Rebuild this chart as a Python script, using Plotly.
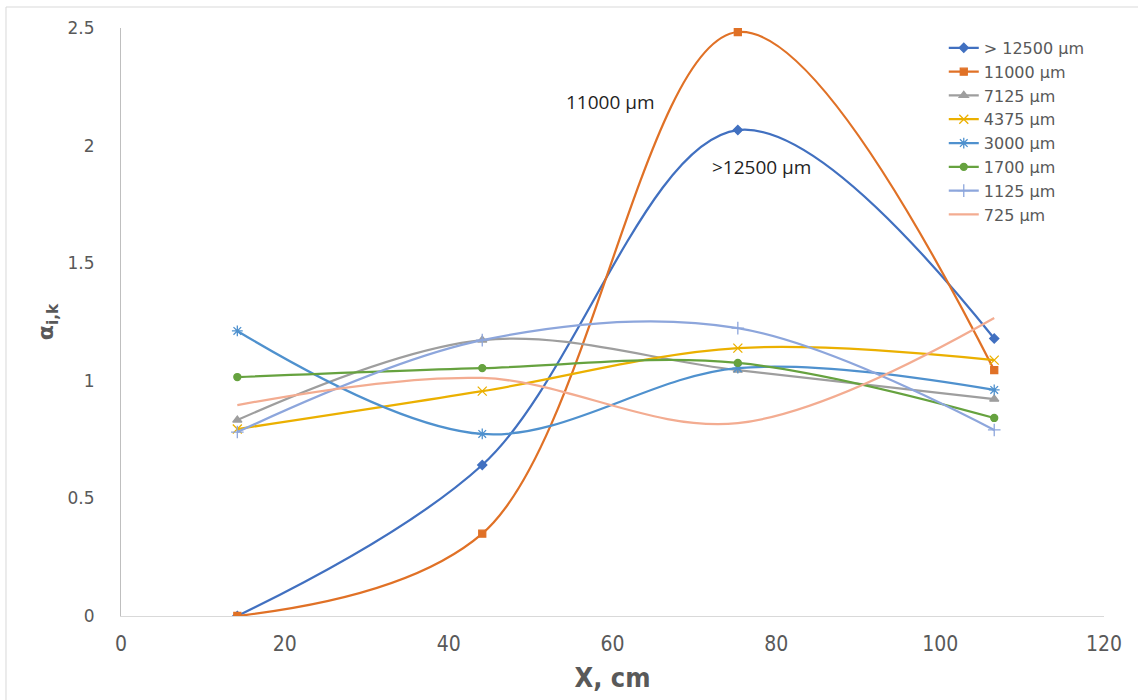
import plotly.graph_objects as go

# Sampling positions along the column (cm)
x_cm = [14.2, 44.1, 75.3, 106.6]

# Coefficient alpha_i,k per particle size fraction
a_12500 = [0.0, 0.642, 2.066, 1.180]
a_11000 = [0.0, 0.350, 2.483, 1.045]
a_7125 = [0.833, 1.173, 1.045, 0.922]
a_4375 = [0.795, 0.956, 1.139, 1.088]
a_3000 = [1.212, 0.774, 1.054, 0.961]
a_1700 = [1.016, 1.054, 1.076, 0.842]
a_1125 = [0.782, 1.173, 1.224, 0.791]
a_725 = [0.897, 1.012, 0.820, 1.267]

series = [
    ("> 12500 µm", a_12500, "#4170C0", "diamond", 7),
    ("11000 µm", a_11000, "#E07126", "square", 7),
    ("7125 µm", a_7125, "#9E9E9E", "triangle-up", 8),
    ("4375 µm", a_4375, "#EBB000", "x-thin", 9),
    ("3000 µm", a_3000, "#4F91CE", "asterisk", 9),
    ("1700 µm", a_1700, "#66A23F", "circle", 7),
    ("1125 µm", a_1125, "#8DA6DC", "cross-thin", 9),
    ("725 µm", a_725, "#F3AC91", None, 0),
]

NARROW = "Liberation Sans Narrow, Arial Narrow, DejaVu Sans Condensed, sans-serif"

fig = go.Figure()
for name, vals, color, sym, size in series:
    mode = "lines+markers" if sym else "lines"
    marker = dict(symbol=sym, size=size, color=color,
                  line=dict(color=color, width=1.3)) if sym else None
    fig.add_trace(go.Scatter(
        x=x_cm, y=vals, name=name, mode=mode,
        line=dict(color=color, width=2.25, shape="spline", smoothing=1.0),
        marker=marker,
    ))

fig.add_annotation(x=x_cm[2], y=a_11000[2], text="11000 µm", showarrow=False,
                   xref="x", yref="y", xshift=-127, yshift=-70,
                   font=dict(family="Open Sans, DejaVu Sans", size=19, color="#1f1f1f"))
fig.add_annotation(x=x_cm[2], y=a_12500[2], text=">12500 µm", showarrow=False,
                   xref="x", yref="y", xshift=24, yshift=-37,
                   font=dict(family="Open Sans, DejaVu Sans", size=19, color="#1f1f1f"))

# outer chart frame
fig.add_shape(type="rect", xref="paper", yref="paper",
              x0=-0.117, x1=1.05, y0=-0.2, y1=1.0357,
              line=dict(color="#D9D9D9", width=1), layer="below")

fig.update_layout(
    width=1138, height=700,
    margin=dict(l=121, r=34, t=28, b=84),
    paper_bgcolor="white", plot_bgcolor="white",
    showlegend=True,
    legend=dict(x=0.837, y=0.995, xanchor="left", yanchor="top",
                bgcolor="rgba(0,0,0,0)",
                font=dict(family="DejaVu Sans", size=16, color="#595959"),
                itemwidth=30),
    xaxis=dict(range=[0, 120], tick0=0, dtick=20, showgrid=False,
               zeroline=False, showline=True, linecolor="#D9D9D9", linewidth=1,
               ticks="", ticklabelstandoff=9,
               tickfont=dict(family=NARROW, size=21, color="#595959"),
               title=dict(text="<b>X, cm</b>", standoff=12,
                          font=dict(family=NARROW, size=27, color="#595959"))),
    yaxis=dict(range=[0, 2.5], tick0=0, dtick=0.5, showgrid=False,
               zeroline=False, showline=True, linecolor="#BFBFBF", linewidth=1,
               ticks="", ticklabelstandoff=22,
               tickfont=dict(family="DejaVu Sans", size=17, color="#595959"),
               title=dict(text="<b>α<sub>i,k</sub></b>", standoff=7,
                          font=dict(family="DejaVu Sans", size=22, color="#595959"))),
)

fig.write_html("out.html")
